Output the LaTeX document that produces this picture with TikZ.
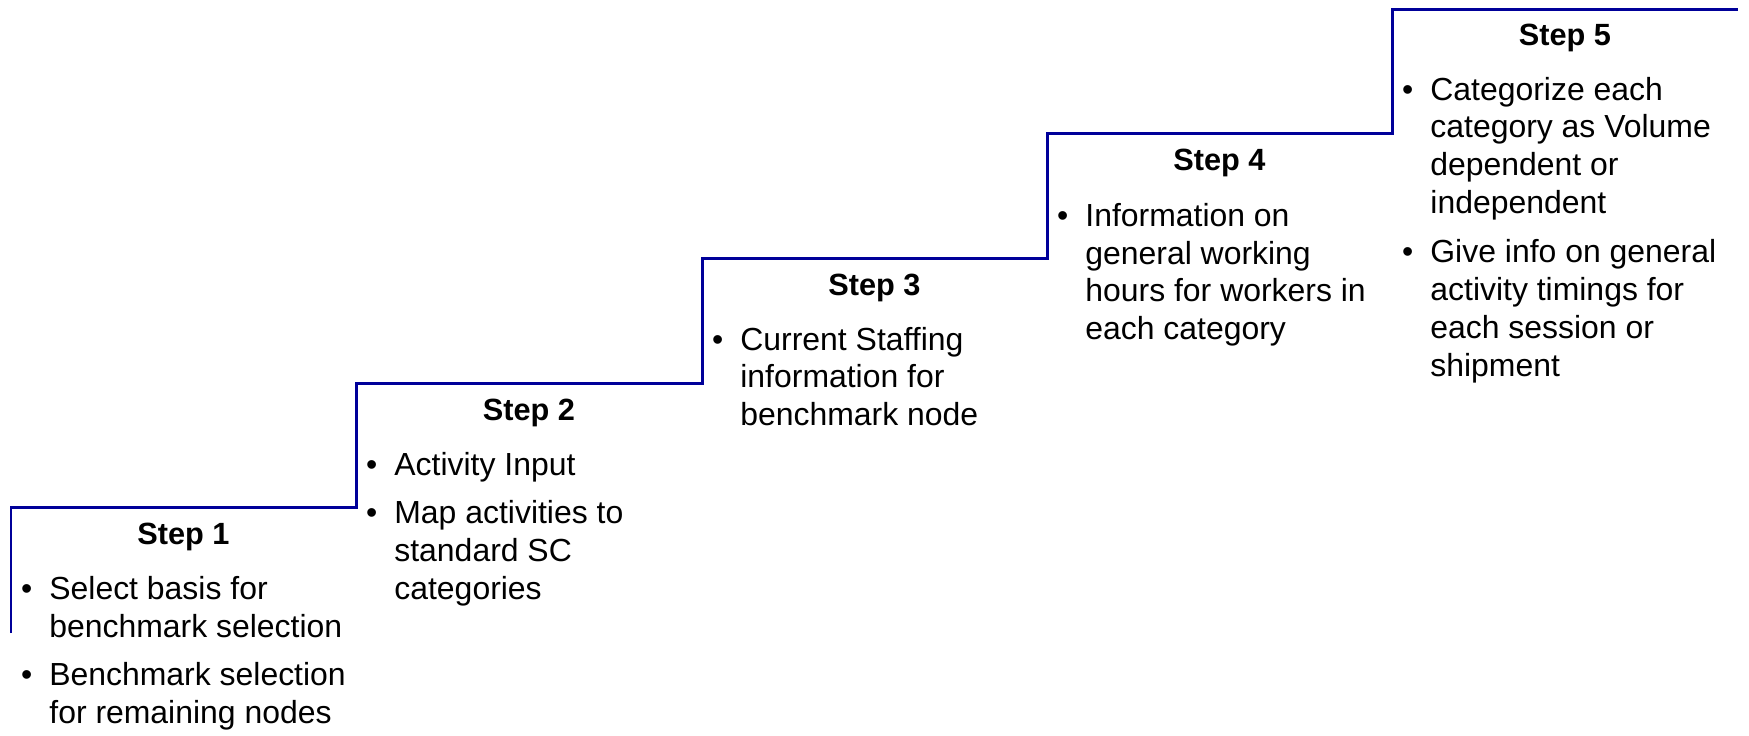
\documentclass[tikz,border=0pt]{standalone}
\usepackage{fontspec}
\setmainfont{Liberation Sans}
\usetikzlibrary{positioning}

\definecolor{stairblue}{RGB}{0,0,153}
% bullet point with its lines stacked
\newcommand{\stepitem}[1]{\begin{tabular}[t]{@{}l@{\hspace{0.17cm}}l@{}}\textbullet & \begin{tabular}[t]{@{}l@{}}#1\end{tabular}\end{tabular}}

\begin{document}
\begin{tikzpicture}[
			x=0.01cm, y=-0.01cm,
			every node/.style={font=\fontsize{9.08pt}{10.8pt}\selectfont, inner sep=0pt},
			stairs/.style={draw=stairblue, line width=0.85pt},
			stephead/.style={anchor=base, font=\fontsize{8.73pt}{10.8pt}\selectfont\bfseries},
			item/.style={anchor=base west}
		]
		\useasboundingbox (0,0) rectangle (1749,735);

		% Staircase
		\draw[stairs] (11,633) |- (356,507) |- (702,383) |- (1047,258) |- (1392,133) |- (1738,9);

		% Step 1
		\node (h1) [stephead] at (183.5,544) {Step 1};
		\node (s1a) [item] at (20.5,599) {\stepitem{Select basis for\\benchmark selection}};
		\node (s1b) [item, below=0.09cm of s1a.south west, anchor=north west] {\stepitem{Benchmark selection\\for remaining nodes}};

		% Step 2
		\node (h2) [stephead] at (529,420) {Step 2};
		\node (s2a) [item] at (365.5,475) {\stepitem{Activity Input}};
		\node (s2b) [item, below=0.09cm of s2a.south west, anchor=north west] {\stepitem{Map activities to\\standard SC\\categories}};

		% Step 3
		\node (h3) [stephead] at (874.5,295) {Step 3};
		\node (s3a) [item] at (711.5,350) {\stepitem{Current Staffing\\information for\\benchmark node}};

		% Step 4
		\node (h4) [stephead] at (1219.5,170) {Step 4};
		\node (s4a) [item] at (1056.5,226) {\stepitem{Information on\\general working\\hours for workers in\\each category}};

		% Step 5
		\node (h5) [stephead] at (1565,45) {Step 5};
		\node (s5a) [item] at (1401.5,100) {\stepitem{Categorize each\\category as Volume\\dependent or\\independent}};
		\node (s5b) [item, below=0.09cm of s5a.south west, anchor=north west] {\stepitem{Give info on general\\activity timings for\\each session or\\shipment}};

	\end{tikzpicture}
\end{document}
